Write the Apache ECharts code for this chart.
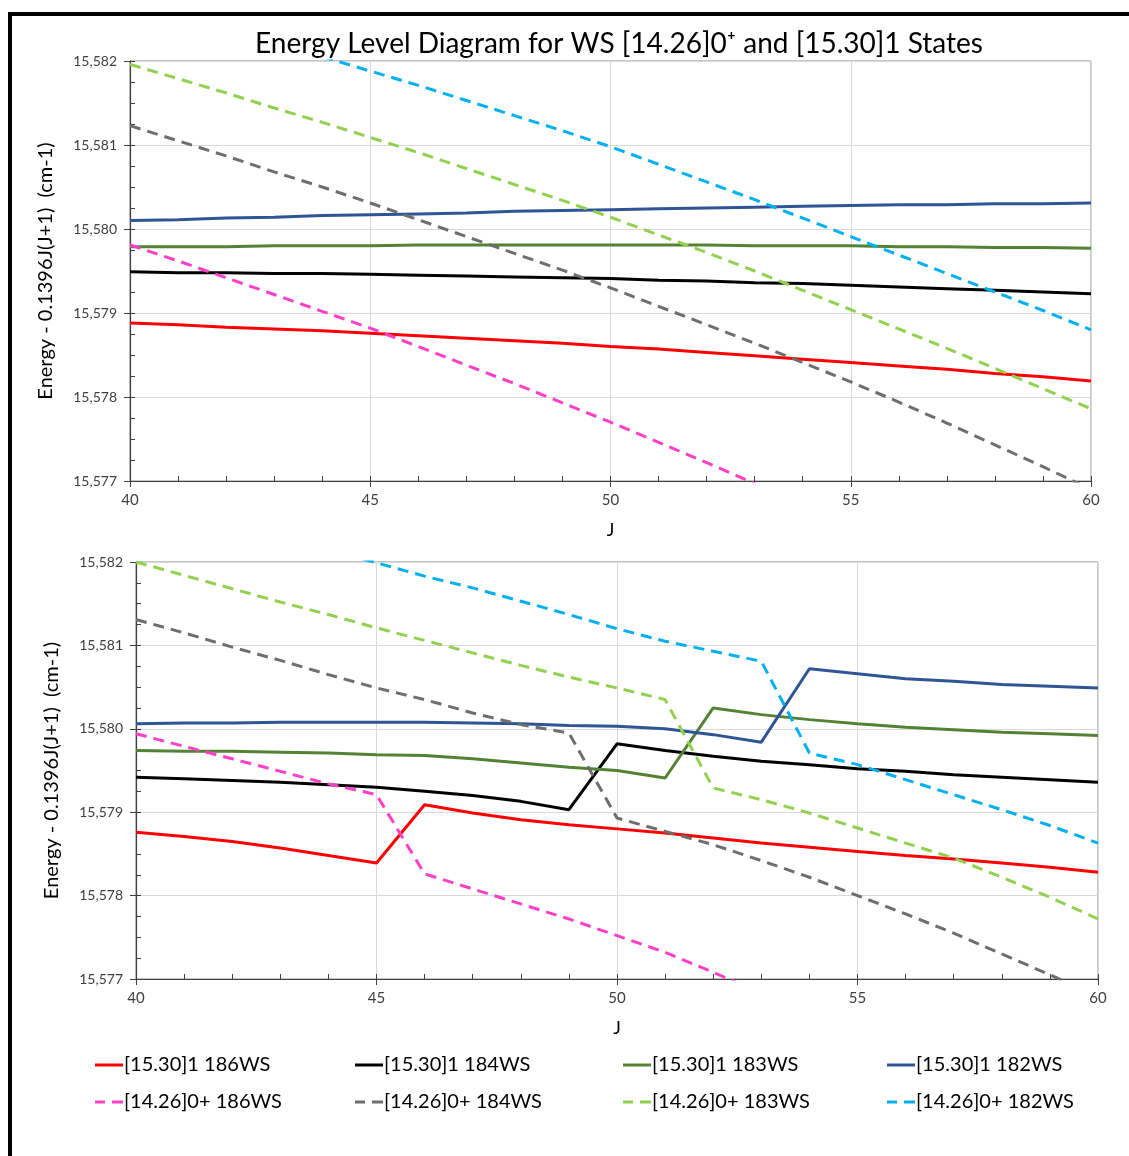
<!DOCTYPE html>
<html>
<head>
<meta charset="utf-8">
<script src="https://cdn.jsdelivr.net/npm/echarts@6/dist/echarts.min.js"></script>
<style>
  html, body { margin: 0; padding: 0; background: #fff; }
  #chart { width: 1129px; height: 1156px; }
  #frame { position: absolute; left: 8px; top: 12px; width: 2000px; height: 2000px;
           border-left: 4px solid #000; border-top: 4px solid #000; pointer-events: none; }
</style>
</head>
<body>
<div id="chart"></div>
<div id="frame"></div>
<script>
// ---------- data ----------
const J = [40,41,42,43,44,45,46,47,48,49,50,51,52,53,54,55,56,57,58,59,60];

const seriesNames = [
  '[15.30]1 186WS', '[15.30]1 184WS', '[15.30]1 183WS', '[15.30]1 182WS',
  '[14.26]0+ 186WS', '[14.26]0+ 184WS', '[14.26]0+ 183WS', '[14.26]0+ 182WS'
];

// Top panel
const top_1_186 = [15578.88,15578.86,15578.83,15578.81,15578.79,15578.76,15578.73,15578.70,15578.67,15578.64,15578.60,15578.57,15578.53,15578.49,15578.45,15578.41,15578.37,15578.33,15578.28,15578.24,15578.19];
const top_1_184 = [15579.49,15579.48,15579.48,15579.47,15579.47,15579.46,15579.45,15579.44,15579.43,15579.42,15579.41,15579.39,15579.38,15579.36,15579.35,15579.33,15579.31,15579.29,15579.27,15579.25,15579.23];
const top_1_183 = [15579.79,15579.79,15579.79,15579.80,15579.80,15579.80,15579.81,15579.81,15579.81,15579.81,15579.81,15579.81,15579.81,15579.80,15579.80,15579.80,15579.79,15579.79,15579.78,15579.78,15579.77];
const top_1_182 = [15580.10,15580.11,15580.13,15580.14,15580.16,15580.17,15580.18,15580.19,15580.21,15580.22,15580.23,15580.24,15580.25,15580.26,15580.27,15580.28,15580.29,15580.29,15580.30,15580.30,15580.31];
const top_0_186 = [15579.81,15579.62,15579.42,15579.22,15579.02,15578.82,15578.60,15578.38,15578.16,15577.93,15577.70,15577.46,15577.22,15576.97,15576.72,null,null,null,null,null,null];
const top_0_184 = [15581.23,15581.05,15580.87,15580.68,15580.50,15580.31,15580.11,15579.91,15579.71,15579.51,15579.30,15579.08,15578.86,15578.64,15578.41,15578.18,15577.94,15577.69,15577.43,15577.17,15576.90];
const top_0_183 = [15581.96,15581.79,15581.62,15581.44,15581.27,15581.09,15580.91,15580.72,15580.53,15580.34,15580.14,15579.93,15579.72,15579.50,15579.27,15579.04,15578.81,15578.58,15578.34,15578.10,15577.86];
const top_0_182 = [null,null,null,null,15582.05,15581.88,15581.71,15581.53,15581.35,15581.17,15580.98,15580.77,15580.56,15580.35,15580.13,15579.91,15579.69,15579.47,15579.25,15579.03,15578.80];

// Bottom panel
const bot_1_186 = [15578.76,15578.71,15578.65,15578.57,15578.48,15578.39,15579.09,15578.99,15578.91,15578.85,15578.80,15578.75,15578.69,15578.63,15578.58,15578.53,15578.48,15578.44,15578.39,15578.34,15578.28];
const bot_1_184 = [15579.42,15579.40,15579.38,15579.36,15579.33,15579.30,15579.25,15579.20,15579.13,15579.03,15579.82,15579.74,15579.67,15579.61,15579.57,15579.52,15579.49,15579.45,15579.42,15579.39,15579.36];
const bot_1_183 = [15579.74,15579.73,15579.73,15579.72,15579.71,15579.69,15579.68,15579.64,15579.59,15579.54,15579.50,15579.41,15580.25,15580.17,15580.11,15580.06,15580.02,15579.99,15579.96,15579.94,15579.92];
const bot_1_182 = [15580.06,15580.07,15580.07,15580.08,15580.08,15580.08,15580.08,15580.07,15580.06,15580.04,15580.03,15580.00,15579.93,15579.84,15580.72,15580.66,15580.60,15580.57,15580.53,15580.51,15580.49];
const bot_0_186 = [15579.94,15579.79,15579.64,15579.49,15579.34,15579.21,15578.26,15578.08,15577.90,15577.72,15577.52,15577.32,15577.08,15576.83,null,null,null,null,null,null,null];
const bot_0_184 = [15581.31,15581.15,15580.98,15580.82,15580.65,15580.49,15580.35,15580.19,15580.05,15579.95,15578.93,15578.77,15578.61,15578.42,15578.22,15578.00,15577.78,15577.55,15577.30,15577.05,15576.80];
const bot_0_183 = [15582.00,15581.84,15581.68,15581.52,15581.37,15581.21,15581.06,15580.91,15580.76,15580.62,15580.49,15580.35,15579.29,15579.15,15578.99,15578.81,15578.63,15578.45,15578.22,15577.98,15577.72];
const bot_0_182 = [null,null,null,null,15582.15,15581.99,15581.83,15581.69,15581.53,15581.37,15581.20,15581.05,15580.93,15580.81,15579.71,15579.57,15579.39,15579.21,15579.03,15578.84,15578.63];

const yTicks = [15577, 15578, 15579, 15580, 15581, 15582];
const xTicks = [40, 45, 50, 55, 60];

// ---------- styles ----------
const colors = ['#ff0000', '#000000', '#548235', '#2f5597', '#ff3fc8', '#6e6e6e', '#92d050', '#00b0f0'];
const dashed = [false, false, false, false, true, true, true, true];
const FONT = 'Lato, "Noto Sans", sans-serif';
const ICON_SOLID = 'path://M0,0H28V3H0Z';
const ICON_DASH = 'path://M0,0H10V3H0Z M17,0H28V3H17Z';

const topSets = [top_1_186, top_1_184, top_1_183, top_1_182, top_0_186, top_0_184, top_0_183, top_0_182];
const botSets = [bot_1_186, bot_1_184, bot_1_183, bot_1_182, bot_0_186, bot_0_184, bot_0_183, bot_0_182];

function pairs(arr) {
  const out = [];
  J.forEach((j, i) => { if (arr[i] !== null) out.push([j, arr[i]]); });
  return out;
}
function fmt(v) { return String(v).replace(/\B(?=(\d{3})+(?!\d))/g, ','); }

const grids = [
  { left: 130, width: 961, top: 61, height: 420, show: true, borderColor: '#8c8c8c', borderWidth: 1 },
  { left: 136, width: 962, top: 562, height: 417, show: true, borderColor: '#8c8c8c', borderWidth: 1 }
];

const xAxes = [], yAxes = [];
[0, 1].forEach(g => {
  xAxes.push({
    type: 'value', gridIndex: g, position: 'bottom', min: xTicks[0], max: xTicks[xTicks.length - 1], interval: 5,
    name: 'J', nameLocation: 'middle', nameGap: 40,
    nameTextStyle: { fontFamily: FONT, fontSize: 18, color: '#000' },
    axisLine: { show: true, onZero: false, lineStyle: { color: '#404040', width: 1.2 } },
    axisTick: { show: true, length: 6, lineStyle: { color: '#404040' } },
    axisLabel: { fontFamily: FONT, fontSize: 15, color: '#404040', margin: 12 },
    splitLine: { show: true, lineStyle: { color: '#d9d9d9', width: 1 } }
  });
  xAxes.push({
    type: 'value', gridIndex: g, position: 'bottom', min: xTicks[0], max: xTicks[xTicks.length - 1], interval: 1,
    axisLine: { show: false, onZero: false },
    axisTick: { show: true, inside: true, length: 5, lineStyle: { color: '#404040' } },
    axisLabel: { show: false }, splitLine: { show: false }
  });
  yAxes.push({
    type: 'value', gridIndex: g, position: 'left', min: yTicks[0], max: yTicks[yTicks.length - 1], interval: 1,
    name: 'Energy - 0.1396J(J+1)  (cm-1)', nameLocation: 'middle', nameGap: 74,
    nameTextStyle: { fontFamily: FONT, fontSize: 20, color: '#000' },
    axisLine: { show: true, onZero: false, lineStyle: { color: '#404040', width: 1.2 } },
    axisTick: { show: true, length: 6, lineStyle: { color: '#404040' } },
    axisLabel: { fontFamily: FONT, fontSize: 14, color: '#404040', margin: 13, formatter: fmt },
    splitLine: { show: true, lineStyle: { color: '#d9d9d9', width: 1 } }
  });
  yAxes.push({
    type: 'value', gridIndex: g, position: 'left', min: yTicks[0], max: yTicks[yTicks.length - 1], interval: 0.25,
    axisLine: { show: false, onZero: false },
    axisTick: { show: true, inside: true, length: 5, lineStyle: { color: '#404040' } },
    axisLabel: { show: false }, splitLine: { show: false }
  });
});

const series = [];
[topSets, botSets].forEach((sets, g) => {
  sets.forEach((arr, k) => {
    series.push({
      name: seriesNames[k], type: 'line', xAxisIndex: g * 2, yAxisIndex: g * 2,
      data: pairs(arr), symbol: 'none', showSymbol: false, clip: true,
      color: colors[k],
      lineStyle: { color: colors[k], width: 3, type: dashed[k] ? [11, 7] : 'solid' },
      z: dashed[k] ? 3 : 2
    });
  });
});

const legendCols = [95, 355, 623, 887];
const legendRows = [1055, 1092];
const legends = seriesNames.map((n, k) => ({
  data: [{ name: n, icon: dashed[k] ? ICON_DASH : ICON_SOLID }],
  left: legendCols[k % 4], top: legendRows[Math.floor(k / 4)], padding: 0,
  itemWidth: 28, itemHeight: 14, itemGap: 0,
  itemStyle: { color: colors[k], borderWidth: 0 },
  textStyle: { fontFamily: FONT, fontSize: 20, color: '#000', padding: [0, 0, 0, -4] }
}));

const chart = echarts.init(document.getElementById('chart'), null, { renderer: 'canvas' });
chart.setOption({
  animation: false,
  backgroundColor: '#fff',
  title: {
    text: 'Energy Level Diagram for WS [14.26]0\u207A and [15.30]1 States',
    left: 614, textAlign: 'center', top: 25,
    textStyle: { fontFamily: FONT, fontSize: 28, fontWeight: 'normal', color: '#000' }
  },
  grid: grids,
  xAxis: xAxes,
  yAxis: yAxes,
  legend: legends,
  series: series
});
</script>
</body>
</html>
